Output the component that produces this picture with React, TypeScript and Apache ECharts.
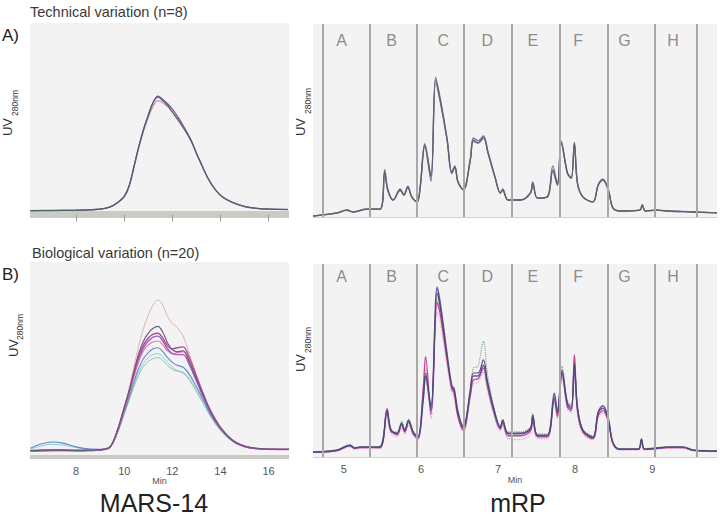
import React, { useEffect, useRef } from 'react';
import * as echarts from 'echarts';

// ---------- MARS-14, technical variation (n=8) ----------
const marsTechX = [6.1, 7.0, 8.0, 8.5, 9.0, 9.4, 9.7, 10.0, 10.2, 10.4, 10.6, 10.8, 11.0, 11.2, 11.4, 11.6, 11.8, 12.0, 12.3, 12.6, 12.8, 13.0, 13.2, 13.5, 13.8, 14.1, 14.5, 15.0, 15.5, 16.0, 16.8];
const marsTechDark = [2.0, 2.1, 2.2, 2.4, 2.8, 3.9, 6.0, 9.5, 15, 25, 35.5, 44.5, 52, 58.5, 61.3, 59.5, 57, 53.5, 48.3, 42.5, 38, 32, 26.5, 18.5, 12.8, 9, 6.3, 4.2, 3.2, 2.8, 2.6];
const marsTechPurple = [2.0, 2.1, 2.2, 2.4, 2.8, 3.9, 6.0, 9.4, 14.8, 24.7, 35.2, 44.2, 51.8, 58.6, 61.8, 60, 57.8, 55, 49.5, 43, 38.2, 32, 26.4, 18.4, 12.7, 9, 6.3, 4.2, 3.2, 2.8, 2.6];
const marsTechPink = [2.0, 2.1, 2.2, 2.4, 2.8, 3.9, 5.9, 9.3, 14.6, 24.4, 34.8, 43.5, 50.6, 56.6, 59.5, 58.4, 56.3, 53.3, 48, 42.3, 37.8, 31.8, 26.3, 18.4, 12.7, 9, 6.3, 4.2, 3.2, 2.8, 2.6];

// ---------- MARS-14, biological variation (n=20) ----------
const marsBioX = [6.1, 6.5, 7.0, 7.5, 8.0, 8.5, 9.0, 9.4, 9.7, 10.0, 10.2, 10.4, 10.6, 10.8, 11.0, 11.2, 11.4, 11.6, 11.8, 12.0, 12.2, 12.45, 12.7, 13.0, 13.3, 13.6, 14.0, 14.5, 15.0, 15.5, 16.0, 16.85];
const marsBioOutlier = [3.0, 3.2, 3.4, 3.4, 3.3, 3.4, 3.8, 5.2, 13.5, 26, 35, 46, 57, 66, 73, 78, 80.5, 78, 72, 68.5, 66.5, 62, 53, 42, 32, 23.5, 15.5, 9, 5.8, 4.5, 4.1, 4.0];
const marsBioDark = [3.2, 3.4, 3.6, 3.5, 3.4, 3.4, 3.7, 5.1, 13.2, 25.5, 34, 44, 53, 59.5, 63.5, 66, 67, 64, 58.5, 55, 54, 54.5, 49, 40, 31, 23, 15, 8.5, 5.5, 4.4, 4.0, 3.9];
const marsBioMagenta = [3.0, 3.2, 3.3, 3.3, 3.2, 3.3, 3.6, 5.0, 12.8, 25, 33.5, 43, 51.5, 57.5, 61, 63, 63.5, 61, 57, 55.5, 56, 56.5, 51, 41.5, 32, 23.5, 15.2, 8.6, 5.5, 4.4, 4.0, 3.9];
const marsBioPurple = [3.4, 3.6, 3.8, 3.7, 3.5, 3.5, 3.8, 5.1, 13, 25, 33, 42.5, 50.5, 56, 59.5, 61.5, 62, 59.5, 55.5, 53, 52.5, 52.5, 47.5, 39, 30.5, 22.5, 14.8, 8.4, 5.4, 4.3, 4.0, 3.9];
const marsBioPink = [3.0, 3.1, 3.2, 3.2, 3.1, 3.2, 3.5, 4.9, 12.5, 24, 32, 41, 49, 54.5, 57.5, 59, 59.5, 57.5, 54.5, 53, 53.5, 54, 49, 40, 31, 23, 15, 8.5, 5.4, 4.3, 3.9, 3.8];
const marsBioBlue = [4.5, 6.5, 7.7, 7.0, 5.2, 4.2, 4.0, 5.0, 12.2, 23, 30.5, 38.5, 45.5, 50.5, 53.5, 55.5, 56, 54, 51, 48.5, 47, 46, 42.5, 36, 29, 21.5, 14.3, 8.3, 5.4, 4.3, 4.0, 3.9];
const marsBioCyan = [4.0, 5.5, 6.5, 6.0, 4.8, 4.0, 3.9, 4.9, 12, 22.5, 29.5, 37, 43.5, 48, 51, 52.5, 53, 51.5, 48.5, 46, 44.5, 43.5, 40.5, 34.5, 28, 21, 14, 8.2, 5.3, 4.3, 4.0, 3.9];
const marsBioGreen = [3.2, 3.4, 3.5, 3.4, 3.3, 3.3, 3.6, 4.8, 11.8, 22, 29, 36, 42, 46.5, 49, 50.5, 51, 49.5, 47, 45, 44, 43, 39.5, 33.5, 27, 20.5, 13.5, 8, 5.2, 4.2, 3.9, 3.8];

// ---------- mRP, technical variation ----------
const mrpTechX = [4.60, 4.91, 5.04, 5.12, 5.30, 5.47, 5.53, 5.57, 5.64, 5.73, 5.78, 5.83, 5.88, 5.95, 5.99, 6.05, 6.13, 6.19, 6.25, 6.34, 6.40, 6.44, 6.48, 6.55, 6.64, 6.68, 6.74, 6.81, 6.87, 6.96, 7.03, 7.06, 7.13, 7.29, 7.42, 7.45, 7.51, 7.64, 7.71, 7.77, 7.82, 7.90, 7.95, 7.99, 8.03, 8.10, 8.23, 8.30, 8.36, 8.43, 8.49, 8.58, 8.84, 8.87, 8.91, 9.06, 9.19, 9.53, 9.84];
const mrpTechDark = [0.5, 2.1, 3.6, 2.6, 4.1, 4.1, 23.3, 14, 8.8, 14, 11.4, 15.5, 10.4, 7.8, 15.5, 37.3, 20.7, 71, 60.6, 39.9, 22.8, 25.9, 18.1, 14, 29.5, 39.9, 38.3, 40.9, 33.2, 20.7, 12.4, 14, 8.8, 8.8, 12.4, 17.6, 9.8, 10.4, 24.4, 16.6, 38.9, 22.8, 20.2, 38.3, 17.6, 10.4, 7.8, 16.6, 19.2, 14, 4.7, 3.1, 3.6, 6.2, 3.1, 3.6, 3.1, 2.6, 2.1];
const mrpTechPurple = [0.5, 2.0, 3.5, 2.5, 4.0, 4.0, 24.5, 14.5, 8.8, 14.5, 11.8, 16, 10.6, 7.6, 15, 36.5, 18.5, 72.5, 61.5, 40.5, 23.3, 26.5, 18.5, 14.2, 30, 41, 39.5, 42, 33.8, 21, 12.5, 14.5, 8.8, 8.8, 12.6, 18.2, 9.8, 10.6, 26.5, 17.2, 38, 22.5, 20, 37.8, 17.4, 10.4, 7.8, 16.8, 19.6, 14.2, 4.7, 3.1, 3.6, 6.0, 3.1, 3.6, 3.1, 2.6, 2.1];
const mrpTechGreen = [0.6, 2.2, 3.7, 2.7, 4.2, 4.2, 22.5, 13.6, 8.9, 13.6, 11.2, 15.2, 10.4, 7.9, 15.8, 38, 21.5, 69.5, 59.5, 39.4, 22.5, 25.4, 18, 14, 29, 39, 38.5, 41.5, 33, 20.5, 12.4, 13.8, 8.8, 8.8, 12.2, 17.2, 9.8, 10.2, 23.5, 16.4, 39.5, 23, 20.5, 38.8, 17.8, 10.4, 7.8, 16.4, 19, 14, 4.8, 3.2, 3.7, 6.6, 3.2, 3.7, 3.2, 2.7, 2.2];

// ---------- mRP, biological variation ----------
const mrpBioX = [4.60, 4.91, 5.08, 5.14, 5.21, 5.30, 5.47, 5.56, 5.61, 5.69, 5.75, 5.79, 5.84, 5.90, 5.96, 6.03, 6.06, 6.13, 6.21, 6.25, 6.34, 6.40, 6.43, 6.48, 6.55, 6.64, 6.68, 6.74, 6.81, 6.86, 6.94, 7.03, 7.06, 7.13, 7.29, 7.42, 7.45, 7.51, 7.64, 7.73, 7.77, 7.83, 7.90, 7.95, 7.99, 8.03, 8.10, 8.23, 8.30, 8.36, 8.43, 8.49, 8.58, 8.82, 8.86, 8.90, 9.06, 9.19, 9.40, 9.53, 9.84];
const mrpBioDark = [2.6, 3.6, 6.2, 4.7, 5.2, 5.2, 5.2, 24.4, 14, 12.4, 17.6, 14, 19.2, 13, 10.4, 31.1, 43.5, 25.9, 85, 77.7, 51.8, 36.3, 34.7, 22.8, 15.5, 34.7, 43.5, 43.5, 50.3, 39.9, 25.9, 15.5, 19.2, 12.4, 12.4, 15, 21.8, 11.4, 11.4, 31.1, 22.8, 45.1, 28, 25.9, 48.7, 25.9, 14, 10.4, 22.8, 25.4, 19.2, 7.3, 4.1, 4.1, 9.3, 4.1, 4.7, 5.2, 5.2, 3.6, 3.1];
const mrpBioPurple = [2.6, 3.4, 6.0, 4.5, 5.0, 5.0, 5.4, 23.5, 13.5, 12, 17, 13.5, 18.5, 12.5, 10, 30, 42, 24, 88, 80, 53, 37, 35.5, 23.5, 15, 33, 42, 42, 47.5, 38.5, 25, 15, 18.5, 12, 12, 14.5, 21, 11, 11, 33, 23.5, 44, 27, 25, 47, 25, 13.5, 10, 23.5, 26.5, 20, 7.5, 4.0, 4.0, 9, 4.0, 4.5, 5.0, 5.0, 3.5, 3.0];
const mrpBioGreen = [2.8, 3.8, 6.4, 5.0, 5.4, 5.4, 5.4, 22, 13.5, 13, 18.5, 14.5, 19.5, 13.5, 10.8, 29, 40, 27, 82, 75, 50, 35, 34, 22, 16, 36, 46, 47, 60, 44, 27, 16, 19.5, 13, 13, 15.5, 22.5, 12, 12, 29, 22, 47, 29, 27, 44, 27, 14.5, 11, 23, 25, 19.5, 7.5, 4.3, 4.3, 9.5, 4.3, 4.9, 5.4, 5.4, 3.8, 3.3];
const mrpBioMagenta = [2.4, 3.3, 5.8, 4.5, 4.9, 4.9, 4.8, 25, 14.5, 11.5, 16.5, 13, 18, 12, 9.5, 36, 52, 22, 80, 74, 50, 35.5, 33, 21, 14, 32, 40, 40.5, 46, 37, 24, 14.5, 18, 11, 11, 13.5, 20.5, 10.5, 10.5, 30, 21, 43, 26, 24, 53, 24, 13, 9.5, 21.5, 24, 18.5, 7, 3.9, 3.9, 8.5, 3.9, 4.4, 4.9, 4.9, 3.4, 3.0];
const mrpBioLight = [2.2, 3.0, 5.2, 4.0, 4.4, 4.4, 4.4, 21, 12.5, 10.5, 15, 12, 16.5, 11, 8.8, 33, 46, 20, 75, 70, 47, 33, 31, 20, 13, 30, 38, 38.5, 44, 35, 22.5, 13.5, 16.5, 9.5, 9, 12, 19, 9.5, 9.5, 28, 20, 41, 25, 23, 45, 23, 12, 8.8, 20.5, 23, 17.5, 6.5, 3.6, 3.6, 8, 3.6, 4.1, 4.5, 4.5, 3.2, 2.8];

// ---------- fractions & ticks ----------
const fractionBounds = [4.73, 5.33, 5.95, 6.56, 7.18, 7.80, 8.42, 9.03, 9.58];
const fractionLetters = ['A', 'B', 'C', 'D', 'E', 'F', 'G', 'H'];
const fractionLetterX = [4.97, 5.62, 6.29, 6.86, 7.45, 8.04, 8.64, 9.27];
const marsTicks = [8, 10, 12, 14, 16];
const mrpTicks = [5, 6, 7, 8, 9];

const FONT = '"Liberation Sans", Arial, Helvetica, sans-serif';

function zip(xs: number[], ys: number[]) {
  return xs.map((x, i) => [x, ys[i]]);
}

function line(idx: number, xs: number[], ys: number[], color: string, width = 1, type: any = 'solid', opacity = 1) {
  return {
    type: 'line',
    xAxisIndex: idx,
    yAxisIndex: idx,
    data: zip(xs, ys),
    showSymbol: false,
    smooth: 0.35,
    silent: true,
    z: 3,
    lineStyle: { color, width, type, opacity },
  };
}

function fractions(idx: number, letterY: number) {
  return {
    type: 'scatter',
    xAxisIndex: idx,
    yAxisIndex: idx,
    symbolSize: 0,
    silent: true,
    z: 2,
    data: fractionLetters.map((l, i) => ({ name: l, value: [fractionLetterX[i], letterY] })),
    label: {
      show: true,
      position: 'inside',
      formatter: '{b}',
      color: '#707070',
      fontSize: 16,
      fontFamily: FONT,
    },
    markLine: {
      silent: true,
      symbol: ['none', 'none'],
      label: { show: false },
      lineStyle: { color: '#a8a8a8', width: 2, type: 'solid' },
      data: fractionBounds.map((x) => ({ xAxis: x })),
    },
  };
}

function rotText(x: number, y: number, text: string, fontSize: number) {
  return {
    type: 'text',
    x,
    y,
    rotation: Math.PI / 2,
    style: { text, fontSize, fill: '#333', fontFamily: FONT, align: 'center', verticalAlign: 'middle' },
  };
}

function uvLabel(ux: number, uy: number, sx: number, sy: number) {
  return [rotText(ux, uy, 'UV', 13), rotText(sx, sy, '280nm', 8.5)];
}

function plainText(x: number, y: number, text: string, fontSize: number, align = 'left', color = '#333') {
  return {
    type: 'text',
    x,
    y,
    style: { text, fontSize, fill: color, fontFamily: FONT, align, verticalAlign: 'middle' },
  };
}

export default function App() {
  const ref = useRef<HTMLDivElement>(null);
  useEffect(() => {
    const chart = echarts.init(ref.current!, null, { renderer: 'svg' });
    const gridBase = { show: true, backgroundColor: '#f3f3f3', borderWidth: 0, containLabel: false };
    const hiddenY = (i: number) => ({ type: 'value', gridIndex: i, min: 0, max: 100, show: false });
    const option: any = {
      animation: false,
      backgroundColor: '#ffffff',
      textStyle: { fontFamily: FONT },
      grid: [
        { ...gridBase, left: 30, top: 23, width: 259, height: 191.5 },
        { ...gridBase, left: 313, top: 24, width: 404, height: 193 },
        { ...gridBase, left: 30, top: 262, width: 259, height: 195 },
        { ...gridBase, left: 313, top: 264, width: 404, height: 193 },
      ],
      xAxis: [
        {
          type: 'value', gridIndex: 0, min: 6.08, max: 16.85,
          splitLine: { show: false },
          axisLine: { show: true, lineStyle: { color: '#cbcbc6', width: 7, cap: 'butt' } },
          axisTick: { show: true, customValues: marsTicks, length: 7, lineStyle: { color: '#9a9a9a' } },
          axisLabel: { show: false },
        },
        {
          type: 'value', gridIndex: 1, min: 4.6, max: 9.84,
          splitLine: { show: false },
          axisLine: { show: true, lineStyle: { color: '#d0d0d0', width: 1 } },
          axisTick: { show: false },
          axisLabel: { show: false },
        },
        {
          type: 'value', gridIndex: 2, min: 6.08, max: 16.85,
          splitLine: { show: false },
          axisLine: { show: true, lineStyle: { color: '#cbcbc6', width: 4, cap: 'butt' } },
          axisTick: { show: false },
          axisLabel: { show: true, customValues: marsTicks, margin: 8, fontSize: 11, color: '#555', fontFamily: FONT },
          name: 'Min', nameLocation: 'middle', nameGap: 17,
          nameTextStyle: { fontSize: 9, color: '#555', fontFamily: FONT },
        },
        {
          type: 'value', gridIndex: 3, min: 4.6, max: 9.84,
          splitLine: { show: false },
          axisLine: { show: true, lineStyle: { color: '#d0d0d0', width: 1 } },
          axisTick: { show: false },
          axisLabel: { show: true, customValues: mrpTicks, margin: 6, fontSize: 11, color: '#555', fontFamily: FONT },
          name: 'Min', nameLocation: 'middle', nameGap: 18,
          nameTextStyle: { fontSize: 9, color: '#555', fontFamily: FONT },
        },
      ],
      yAxis: [hiddenY(0), hiddenY(1), hiddenY(2), hiddenY(3)],
      series: [
        // MARS-14 technical
        line(0, marsTechX, marsTechPink, '#d890a8', 1.2),
        line(0, marsTechX, marsTechPurple, '#7e5aa8', 1.4),
        line(0, marsTechX, marsTechDark, '#4c6462', 1.1),
        // mRP technical
        fractions(1, 91.7),
        line(1, mrpTechX, mrpTechGreen, '#6a9c82', 1.2),
        line(1, mrpTechX, mrpTechPurple, '#9060b0', 1.3),
        line(1, mrpTechX, mrpTechDark, '#5e6468', 1.3),
        // MARS-14 biological
        line(2, marsBioX, marsBioOutlier, '#e2b0b4', 1),
        line(2, marsBioX, marsBioGreen, '#8cc79a', 1),
        line(2, marsBioX, marsBioCyan, '#82cfe0', 1),
        line(2, marsBioX, marsBioBlue, '#6f82c8', 1.1),
        line(2, marsBioX, marsBioPink, '#e07aa8', 1.2),
        line(2, marsBioX, marsBioPurple, '#9a62c4', 1.4),
        line(2, marsBioX, marsBioMagenta, '#b8489a', 1.4),
        line(2, marsBioX, marsBioDark, '#6a5a7a', 1.1),
        // mRP biological
        fractions(3, 93.3),
        line(3, mrpBioX, mrpBioLight, '#e2a2c4', 1.2, 'dotted'),
        line(3, mrpBioX, mrpBioGreen, '#70a87e', 1.1, 'dotted'),
        line(3, mrpBioX, mrpBioMagenta, '#c0449a', 1.3),
        line(3, mrpBioX, mrpBioPurple, '#6a50b4', 1.5),
        line(3, mrpBioX, mrpBioDark, '#4e4a62', 1.1),
      ],
      graphic: [
        plainText(30, 12, 'Technical variation (n=8)', 14.5, 'left', '#3a3a3a'),
        plainText(2, 35, 'A)', 17, 'left', '#222'),
        plainText(32, 253, 'Biological variation (n=20)', 14.5, 'left', '#3a3a3a'),
        plainText(2, 274, 'B)', 17, 'left', '#222'),
        plainText(154, 503, 'MARS-14', 25, 'center', '#222'),
        plainText(518, 503, 'mRP', 25, 'center', '#222'),
        ...uvLabel(7, 127, 15, 103),
        ...uvLabel(300, 127, 308, 101),
        ...uvLabel(13, 348, 20, 327),
        ...uvLabel(300, 363, 308, 340),
      ],
    };
    chart.setOption(option);
    return () => chart.dispose();
  }, []);
  return <div ref={ref} style={{ position: 'absolute', left: 0, top: 0, width: 720, height: 517 }} />;
}
